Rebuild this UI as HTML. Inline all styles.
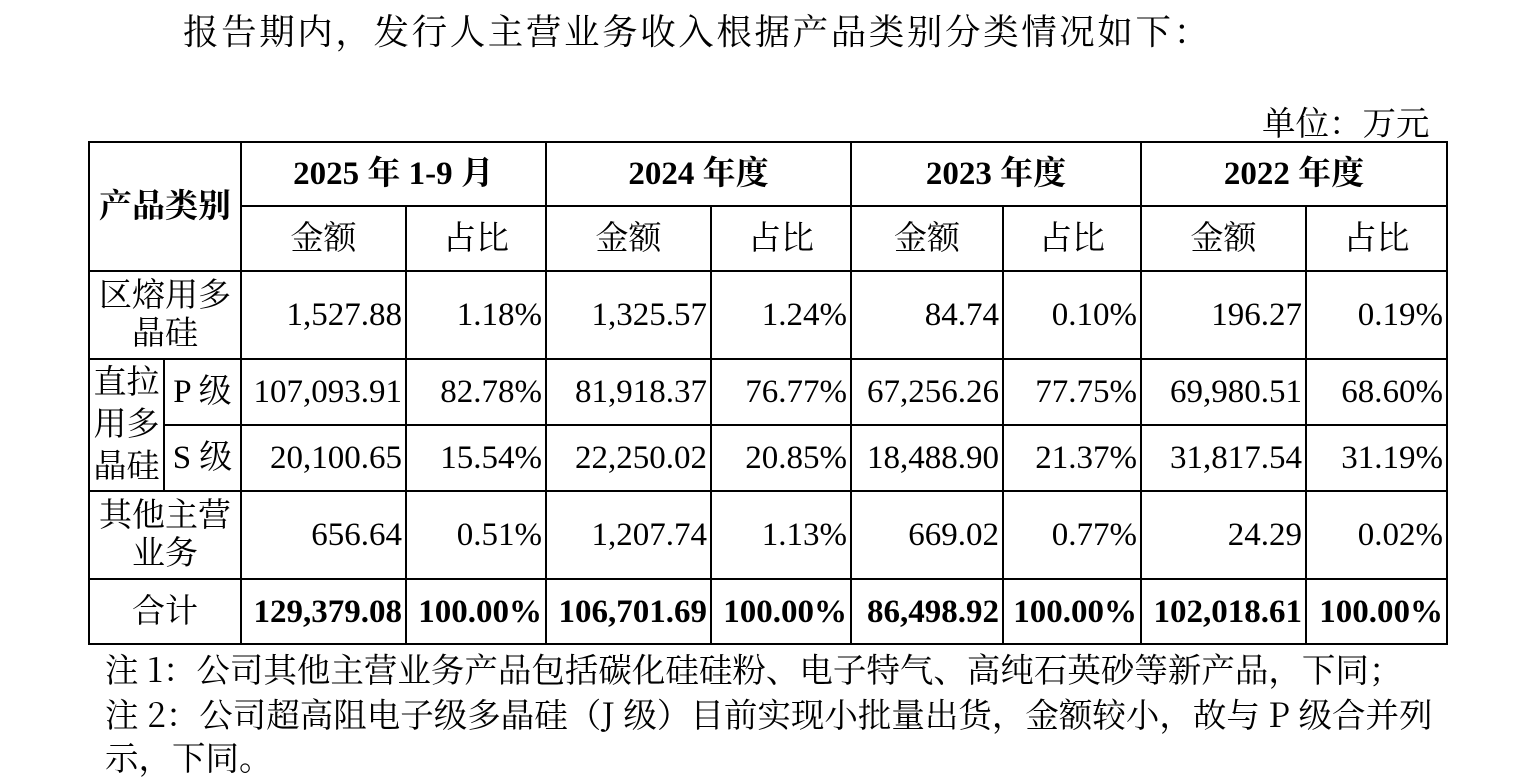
<!DOCTYPE html>
<html><head><meta charset="utf-8"><style>
body{margin:0;width:1522px;height:784px;background:#fff;position:relative;overflow:hidden;font-family:"Liberation Serif","Noto Serif CJK SC",serif;color:#000}
.t{position:absolute;white-space:nowrap;font-family:"Noto Serif CJK SC","Liberation Serif",serif}
table{position:absolute;left:88px;top:141px;border-collapse:collapse;table-layout:fixed;font-size:33px}
td{border:2px solid #000;padding:0 3px 0 0;text-align:right;line-height:38px;overflow:hidden;white-space:nowrap}
td.c{text-align:center;padding:0}
.b{font-weight:bold}
</style></head><body>
<div class="t" style="left:183px;top:4px;font-size:35.5px;letter-spacing:2.6px">报告期内，发行人主营业务收入根据产品类别分类情况如下：</div>
<div class="t" style="left:1262px;top:96px;font-size:33.5px">单位：万元</div>
<table>
<colgroup><col style="width:75px"><col style="width:77px"><col style="width:165px"><col style="width:140px"><col style="width:165px"><col style="width:140px"><col style="width:152px"><col style="width:138px"><col style="width:165px"><col style="width:141px"></colgroup>
<tr style="height:64px"><td class="c b" colspan="2" rowspan="2">产品类别</td><td class="c b" colspan="2">2025 年 1-9 月</td><td class="c b" colspan="2">2024 年度</td><td class="c b" colspan="2">2023 年度</td><td class="c b" colspan="2">2022 年度</td></tr>
<tr style="height:65px"><td class="c">金额</td><td class="c">占比</td><td class="c">金额</td><td class="c">占比</td><td class="c">金额</td><td class="c">占比</td><td class="c">金额</td><td class="c">占比</td></tr>
<tr style="height:88px"><td class="c" colspan="2" style="white-space:normal">区熔用多<br>晶硅</td><td>1,527.88</td><td>1.18%</td><td>1,325.57</td><td>1.24%</td><td>84.74</td><td>0.10%</td><td>196.27</td><td>0.19%</td></tr>
<tr style="height:66px"><td class="c" rowspan="2" style="line-height:42px">直拉<br>用多<br>晶硅</td><td class="c">P 级</td><td>107,093.91</td><td>82.78%</td><td>81,918.37</td><td>76.77%</td><td>67,256.26</td><td>77.75%</td><td>69,980.51</td><td>68.60%</td></tr>
<tr style="height:66px"><td class="c">S 级</td><td>20,100.65</td><td>15.54%</td><td>22,250.02</td><td>20.85%</td><td>18,488.90</td><td>21.37%</td><td>31,817.54</td><td>31.19%</td></tr>
<tr style="height:88px"><td class="c" colspan="2">其他主营<br>业务</td><td>656.64</td><td>0.51%</td><td>1,207.74</td><td>1.13%</td><td>669.02</td><td>0.77%</td><td>24.29</td><td>0.02%</td></tr>
<tr style="height:65px"><td class="c" colspan="2">合计</td><td class="b">129,379.08</td><td class="b">100.00%</td><td class="b">106,701.69</td><td class="b">100.00%</td><td class="b">86,498.92</td><td class="b">100.00%</td><td class="b">102,018.61</td><td class="b">100.00%</td></tr>
</table>
<div class="t" style="left:105px;top:643px;font-size:33.5px">注 1：公司其他主营业务产品包括碳化硅硅粉、电子特气、高纯石英砂等新产品，下同；</div>
<div class="t" style="left:105px;top:688px;font-size:33.5px">注 2：公司超高阻电子级多晶硅（J 级）目前实现小批量出货，金额较小，故与 P 级合并列</div>
<div class="t" style="left:105px;top:731px;font-size:33.5px">示，下同。</div>
</body></html>
